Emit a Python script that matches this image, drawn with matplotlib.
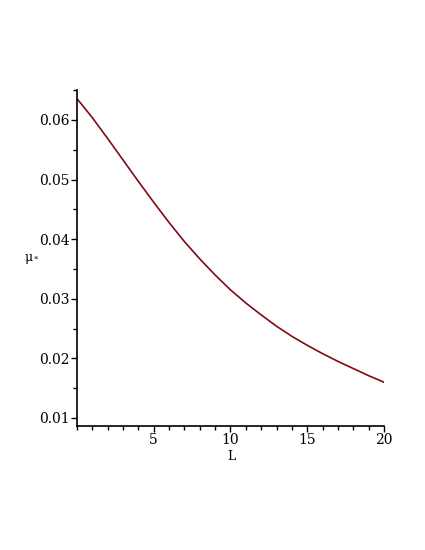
#!/usr/bin/env python3
"""Maple-style line plot of mu_* against L."""
import matplotlib
matplotlib.use("Agg")
import matplotlib.pyplot as plt
from matplotlib.ticker import MultipleLocator

# values
L_vals = [0, 1, 2, 3, 4, 5, 6, 7, 8, 9, 10,
          11, 12, 13, 14, 15, 16, 17, 18, 19, 20]
mu_vals = [0.0636, 0.0604, 0.0569, 0.0533, 0.0497, 0.0462, 0.0428, 0.0396,
           0.0367, 0.0340, 0.0315, 0.0293, 0.0273, 0.0254, 0.0237, 0.0222,
           0.0208, 0.0195, 0.0183, 0.0171, 0.0160]
x_ticks = [5, 10, 15, 20]
y_ticks = [0.01, 0.02, 0.03, 0.04, 0.05, 0.06]

plt.rcParams["font.family"] = "DejaVu Serif"

fig = plt.figure(figsize=(4.25, 5.5), dpi=100)
ax = fig.add_axes([0.181, 0.2255, 0.7225, 0.6105])

ax.plot(L_vals, mu_vals, color="#800a14", lw=1.2, solid_joinstyle="round")

ax.set_xlim(0, 20)
ax.set_ylim(0.00866, 0.0650)
ax.set_xticks(x_ticks)
ax.set_yticks(y_ticks)
ax.set_yticklabels([f"{v:.2f}" for v in y_ticks])
ax.xaxis.set_minor_locator(MultipleLocator(1))
ax.yaxis.set_minor_locator(MultipleLocator(0.005))
ax.tick_params(which="major", length=4, width=1, labelsize=10, pad=1)
ax.tick_params(which="minor", length=3, width=1)

for side in ("top", "right"):
    ax.spines[side].set_visible(False)
for side in ("left", "bottom"):
    ax.spines[side].set_linewidth(1.2)

fig.text(231 / 425, 1 - 457 / 550, "L", ha="center", va="center", fontsize=9)
fig.text(29 / 425, 1 - 257 / 550, "μ", ha="center", va="center", fontsize=9)
fig.text(34 / 425, 1 - 260 / 550, "*", ha="left", va="center", fontsize=6)

fig.savefig("out.png", dpi=100, facecolor="white")
